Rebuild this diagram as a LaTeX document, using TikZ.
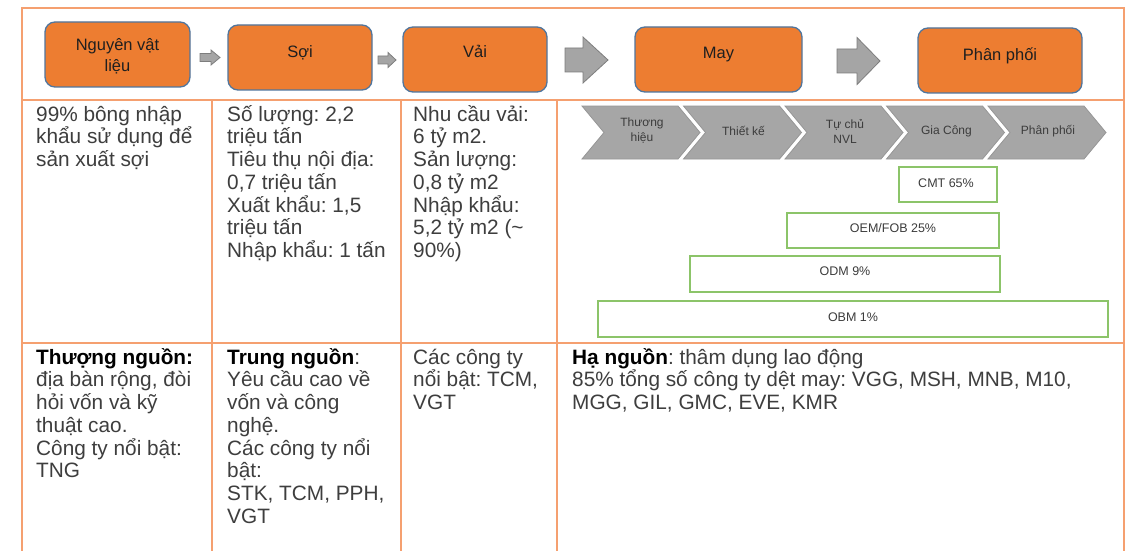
\documentclass[tikz,border=0pt]{standalone}
\usepackage{fontspec}
\setmainfont{Liberation Sans}
\frenchspacing
\definecolor{frameor}{RGB}{245,160,112}
\definecolor{boxor}{RGB}{237,125,49}
\definecolor{boxedge}{RGB}{80,118,158}
\definecolor{arrgray}{RGB}{165,165,165}
\definecolor{arredge}{RGB}{125,125,125}
\definecolor{chevgray}{RGB}{166,166,166}
\definecolor{chevedge}{RGB}{150,150,150}
\definecolor{greenedge}{RGB}{140,196,105}
\definecolor{bodytext}{RGB}{62,62,62}
\definecolor{smalltext}{RGB}{60,60,60}
\newcommand{\mystrut}{\rule{0pt}{21pt}}
\newcommand{\ostrut}{\rule{0pt}{17pt}}
\newcommand{\hb}[1]{{\color{black}\bfseries #1}}
\begin{document}
\begin{tikzpicture}[x=1pt,y=-1pt,
  frame/.style={draw=frameor,line width=1.5pt},
  obox/.style={draw=boxedge,fill=boxor,line width=1.3pt,rounded corners=10pt,inner sep=0pt},
  olabel/.style={font=\fontsize{16.5}{21}\selectfont,text=black!88,align=center,inner sep=0pt,anchor=north},
  body/.style={font=\fontsize{20.8}{22.7}\selectfont,text=bodytext,align=left,inner sep=0pt,anchor=north west},
  blockarrow/.style={fill=arrgray,draw=arredge,line width=0.8pt},
  chevron/.style={fill=chevgray,draw=chevedge,line width=0.8pt},
  chevlbl/.style={font=\fontsize{12}{15}\selectfont,text=smalltext,align=center,inner sep=0pt},
  gbox/.style={draw=greenedge,line width=2pt,fill=white,inner sep=0pt},
  glbl/.style={font=\fontsize{12.5}{15}\selectfont,text=smalltext,inner sep=0pt}
]
\useasboundingbox (0,0) rectangle (1133,551);
\fill[white] (0,0) rectangle (1133,551);

% table frame
\draw[frame] (22,551) -- (22,8) -- (1124,8) -- (1124,551);
\draw[frame] (22,100) -- (1124,100);
\draw[frame] (22,343) -- (1124,343);
\foreach \xx in {212,401,557} \draw[frame] (\xx,100) -- (\xx,551);

% top orange boxes
\node[obox,minimum width=145pt,minimum height=65pt] (b1) at (117.5,54.5) {};
\node[obox,minimum width=144pt,minimum height=65pt] (b2) at (300,57.5) {};
\node[obox,minimum width=144pt,minimum height=65pt] (b3) at (475,59.5) {};
\node[obox,minimum width=167pt,minimum height=65pt] (b4) at (718.5,59.5) {};
\node[obox,minimum width=164pt,minimum height=65pt] (b5) at (1000,60.5) {};
\node[olabel] (l1) at (117.5,33) {\ostrut Nguyên vật\\liệu};
\node[olabel] (l2) at (300,40) {\ostrut Sợi};
\node[olabel] (l3) at (475,40) {\ostrut Vải};
\node[olabel] (l4) at (718.5,41) {\ostrut May};
\node[olabel] (l5) at (1000,43) {\ostrut Phân phối};

% block arrows
\draw[blockarrow] (200,53.5) -- (211,53.5) -- (211,50) -- (220,57.5) -- (211,65) -- (211,61.5) -- (200,61.5) -- cycle;
\draw[blockarrow] (378,56) -- (388,56) -- (388,52.5) -- (396,60) -- (388,67.5) -- (388,64) -- (378,64) -- cycle;
\draw[blockarrow] (565,48) -- (583,48) -- (583,37) -- (608,60) -- (583,83) -- (583,72) -- (565,72) -- cycle;
\draw[blockarrow] (837,49) -- (857,49) -- (857,37.5) -- (880,61) -- (857,84.5) -- (857,73) -- (837,73) -- cycle;

% row 2 text
\node[body] (t21) at (36,100) {\mystrut 99\% bông nhập\\khẩu sử dụng để\\sản xuất sợi};
\node[body] (t22) at (227,100) {\mystrut Số lượng: 2,2\\triệu tấn\\Tiêu thụ nội địa:\\0,7 triệu tấn\\Xuất khẩu: 1,5\\triệu tấn\\Nhập khẩu: 1 tấn};
\node[body] (t23) at (413,100) {\mystrut Nhu cầu vải:\\6 tỷ m2.\\Sản lượng:\\0,8 tỷ m2\\Nhập khẩu:\\5,2 tỷ m2 (\textasciitilde\\90\%)};

% chevrons
\foreach \i/\t in {0/{Thương\\hiệu},1/{Thiết kế},2/{Tự chủ\\NVL},3/{Gia Công},4/{Phân phối}}{
  \pgfmathsetmacro{\L}{582+101.5*\i}
  \draw[chevron] (\L,106) -- (\L+96,106) -- (\L+118,132.5) -- (\L+96,159) -- (\L,159) -- (\L+22,132.5) -- cycle;
  \node[chevlbl] (c\i) at (\L+60,131) {\t};
}

% green boxes
\node[gbox,minimum width=98pt,minimum height=35pt] (g1) at (948,184.5) {};
\node[gbox,minimum width=212pt,minimum height=35pt] (g2) at (893,230.5) {};
\node[gbox,minimum width=310pt,minimum height=36pt] (g3) at (845,274) {};
\node[gbox,minimum width=510pt,minimum height=36pt] (g4) at (853,319) {};
\node[glbl] (gt1) at (946,183) {CMT 65\%};
\node[glbl] (gt2) at (893,228) {OEM/FOB 25\%};
\node[glbl] (gt3) at (845,271.5) {ODM 9\%};
\node[glbl] (gt4) at (853,317) {OBM 1\%};

% row 3 text
\node[body] (t31) at (36,343) {\mystrut\hb{Thượng nguồn:}\\địa bàn rộng, đòi\\hỏi vốn và kỹ\\thuật cao.\\Công ty nổi bật:\\TNG};
\node[body] (t32) at (227,343) {\mystrut\hb{Trung nguồn}:\\Yêu cầu cao về\\vốn và công\\nghệ.\\Các công ty nổi\\bật:\\STK, TCM, PPH,\\VGT};
\node[body] (t33) at (413,343) {\mystrut Các công ty\\nổi bật: TCM,\\VGT};
\node[body] (t34) at (572,343) {\mystrut\hb{Hạ nguồn}: thâm dụng lao động\\85\% tổng số công ty dệt may: VGG, MSH, MNB, M10,\\MGG, GIL, GMC, EVE, KMR};
\end{tikzpicture}
\end{document}
